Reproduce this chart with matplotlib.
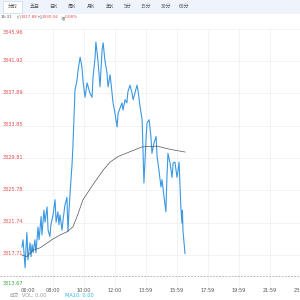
import matplotlib
matplotlib.use('Agg')
import matplotlib.pyplot as plt
from matplotlib.patches import Rectangle

plt.rcParams['font.family'] = ['Noto Sans CJK SC', 'DejaVu Sans']

# ---------------- data ----------------
tabs = ['分时', '五日', '日K', '周K', '月K', '年K', '5分', '15分', '30分', '60分']
info_time = '16:31'
info_price = '3317.88'
info_avg = '3330.56'
info_chg = '0.08%'

x_tick_minutes = [0, 120, 240, 360, 480, 600, 720, 840, 960, 1080]
x_tick_labels = ['06:00', '08:00', '10:00', '12:00', '13:59', '15:59',
                 '17:59', '19:59', '21:59', '23:59']
y_ticks = [3313.67, 3317.71, 3321.74, 3325.78, 3329.81,
           3333.85, 3337.89, 3341.92, 3345.96]
ref_level = 3315.10

minutes = [0, 4, 12, 15, 19, 23, 31, 35, 39, 43, 50, 54, 62, 66, 74, 77, 85,
           89, 97, 101, 108, 112, 120, 128, 132, 139, 143, 147, 155, 159, 166,
           174, 178, 182, 186, 194, 197, 201, 205,
           213, 217, 225, 232, 236, 244,
           252, 263, 271, 275, 283, 286, 294, 302, 310, 314, 321, 329, 333,
           341, 348, 352, 360, 368, 372, 379, 387, 391, 399, 406, 410, 418,
           426, 430, 437, 445, 449, 457, 465, 468, 472, 480, 484, 492, 499,
           503, 511, 519, 523, 530, 538, 542, 550, 557, 561, 565, 573, 581,
           585, 592, 600, 604, 608, 615, 619, 621, 623, 631]
price = [3318.7, 3319.6, 3316.1, 3318.3, 3320.5, 3317.1, 3319.2, 3317.5,
         3319.0, 3318.0, 3319.6, 3318.0, 3321.2, 3319.6, 3322.5, 3320.2,
         3323.3, 3321.8, 3323.7, 3320.8, 3320.0, 3321.5, 3322.7, 3324.6,
         3321.8, 3323.1, 3321.5, 3322.7, 3320.8, 3322.1, 3323.9, 3324.9,
         3320.6, 3323.3, 3325.4, 3329.2, 3331.2, 3334.6, 3338.3,
         3339.5, 3340.8, 3342.4, 3341.2, 3339.5, 3337.4, 3339.2, 3337.9,
         3337.4, 3339.9, 3342.4, 3344.3, 3342.0, 3338.7, 3343.3, 3344.2,
         3342.0, 3340.4, 3338.7, 3340.2, 3338.1, 3336.8, 3335.4, 3333.7,
         3335.4, 3336.0, 3336.7, 3335.8, 3337.1, 3336.7, 3338.1, 3338.9,
         3337.9, 3337.1, 3337.9, 3338.9, 3338.3, 3336.2, 3334.6, 3331.2,
         3326.7, 3332.1, 3334.2, 3334.6, 3332.5, 3330.4, 3331.7, 3332.5,
         3330.0, 3328.3, 3326.2, 3327.1, 3324.9, 3323.1, 3327.4, 3330.4,
         3329.2, 3327.4, 3329.2, 3329.3, 3327.4, 3328.3, 3329.3, 3323.7,
         3321.7, 3323.3, 3320.8, 3317.88]

avg_minutes = [0, 19, 43, 70, 97, 120, 147, 174, 197, 213, 236, 275, 314,
               341, 372, 418, 465, 523, 573, 631]
avg_price = [3317.7, 3317.5, 3318.3, 3318.6, 3319.2, 3319.7, 3320.2, 3320.6,
             3321.2, 3322.5, 3324.6, 3326.5, 3328.3, 3329.3, 3330.0, 3330.6,
             3331.2, 3331.3, 3330.9, 3330.56]

# ---------------- figure ----------------
W = H = 300
fig = plt.figure(figsize=(3, 3), dpi=100)


def fx(x):
    return x / W


def fy(y):
    return 1 - y / H


# tab bar
fig.patches.append(Rectangle((0, fy(13.5)), 1, 13.5 / H, transform=fig.transFigure,
                             facecolor='#eef3fc', edgecolor='none', zorder=0))
fig.patches.append(Rectangle((fx(3), fy(12.5)), 19 / W, 11.5 / H, transform=fig.transFigure,
                             facecolor='#ffffff', edgecolor='#c9d8f2', linewidth=0.5, zorder=1))
tab_centers = [12.5, 35, 53, 72, 91, 110, 128, 146, 166, 184]
for t, cx in zip(tabs, tab_centers):
    fig.text(fx(cx), fy(6.8), t, ha='center', va='center', fontsize=3.6,
             color='#555555', zorder=2)

# info row
num = ['DejaVu Sans']
fig.text(fx(1), fy(17.5), info_time, ha='left', va='center', fontsize=3.0,
         color='#555555', family=num)
fig.text(fx(18.5), fy(17.5), '价', ha='center', va='center', fontsize=3.0, color='#888888')
fig.text(fx(21), fy(17.5), info_price, ha='left', va='center', fontsize=3.0,
         color='#e84a4a', family=num)
fig.text(fx(39.5), fy(17.5), '均', ha='center', va='center', fontsize=3.0, color='#888888')
fig.text(fx(42), fy(17.5), info_avg, ha='left', va='center', fontsize=3.0,
         color='#e84a4a', family=num)
fig.text(fx(62.5), fy(17.5), '幅', ha='center', va='center', fontsize=3.0, color='#888888')
fig.text(fx(65), fy(17.5), info_chg, ha='left', va='center', fontsize=3.0,
         color='#e84a4a', family=num)

# main axes: 0 min at x=22 px, 120 min per 31 px
top_px, bot_px = 28.7, 287.3
ax = fig.add_axes([0, fy(bot_px), 1, (bot_px - top_px) / H])
x0 = -22 * 120 / 31
x1 = (W - 22) * 120 / 31
ax.set_xlim(x0, x1)
ax.set_ylim(y_ticks[0], y_ticks[-1])
for s in ax.spines.values():
    s.set_visible(False)
ax.set_xticks([])
ax.set_yticks([])
for v in y_ticks:
    ax.axhline(v, color='#efefef', lw=0.5, zorder=0)
for m in x_tick_minutes[1:]:
    ax.axvline(m, color='#efefef', lw=0.5, zorder=0)
ax.axhline(ref_level, color='#9a9a9a', lw=0.5, ls=(0, (2.5, 2)), zorder=1)

ax.plot(minutes, price, color='#3a98e2', lw=0.8, zorder=3)
ax.plot(avg_minutes, avg_price, color='#555555', lw=0.5, zorder=4)

# y labels (inside, left)
for i, v in enumerate(y_ticks):
    if i == 0:
        va, col, dy = 'bottom', '#35a835', 1.5
    elif i == len(y_ticks) - 1:
        va, col, dy = 'top', '#e84a4a', -1.0
    else:
        va, col, dy = 'center', '#e84a4a', 1.0
    ax.annotate(f'{v:.2f}', xy=(0, v), xycoords=('axes fraction', 'data'),
                xytext=(3, dy), textcoords='offset pixels', ha='left', va=va,
                fontsize=3.6, color=col, family=num)

# x labels
for i, (m, lab) in enumerate(zip(x_tick_minutes, x_tick_labels)):
    xp = 22 + m * 31 / 120
    ha = 'left' if i == 0 else 'center'
    xx = 21 if i == 0 else xp
    fig.text(fx(xx), fy(290.5), lab, ha=ha, va='center', fontsize=3.6,
             color='#555555', family=num)

# footer
fig.text(fx(15), fy(295.5), '成交', ha='center', va='center', fontsize=3.4, color='#999999')
fig.text(fx(22), fy(295.5), 'VOL: 0.00', ha='left', va='center', fontsize=3.6,
         color='#999999', family=num)
fig.text(fx(65), fy(295.5), 'MA10: 0.00', ha='left', va='center', fontsize=3.6,
         color='#2fb8e6', family=num)

fig.savefig('out.png', dpi=100)
